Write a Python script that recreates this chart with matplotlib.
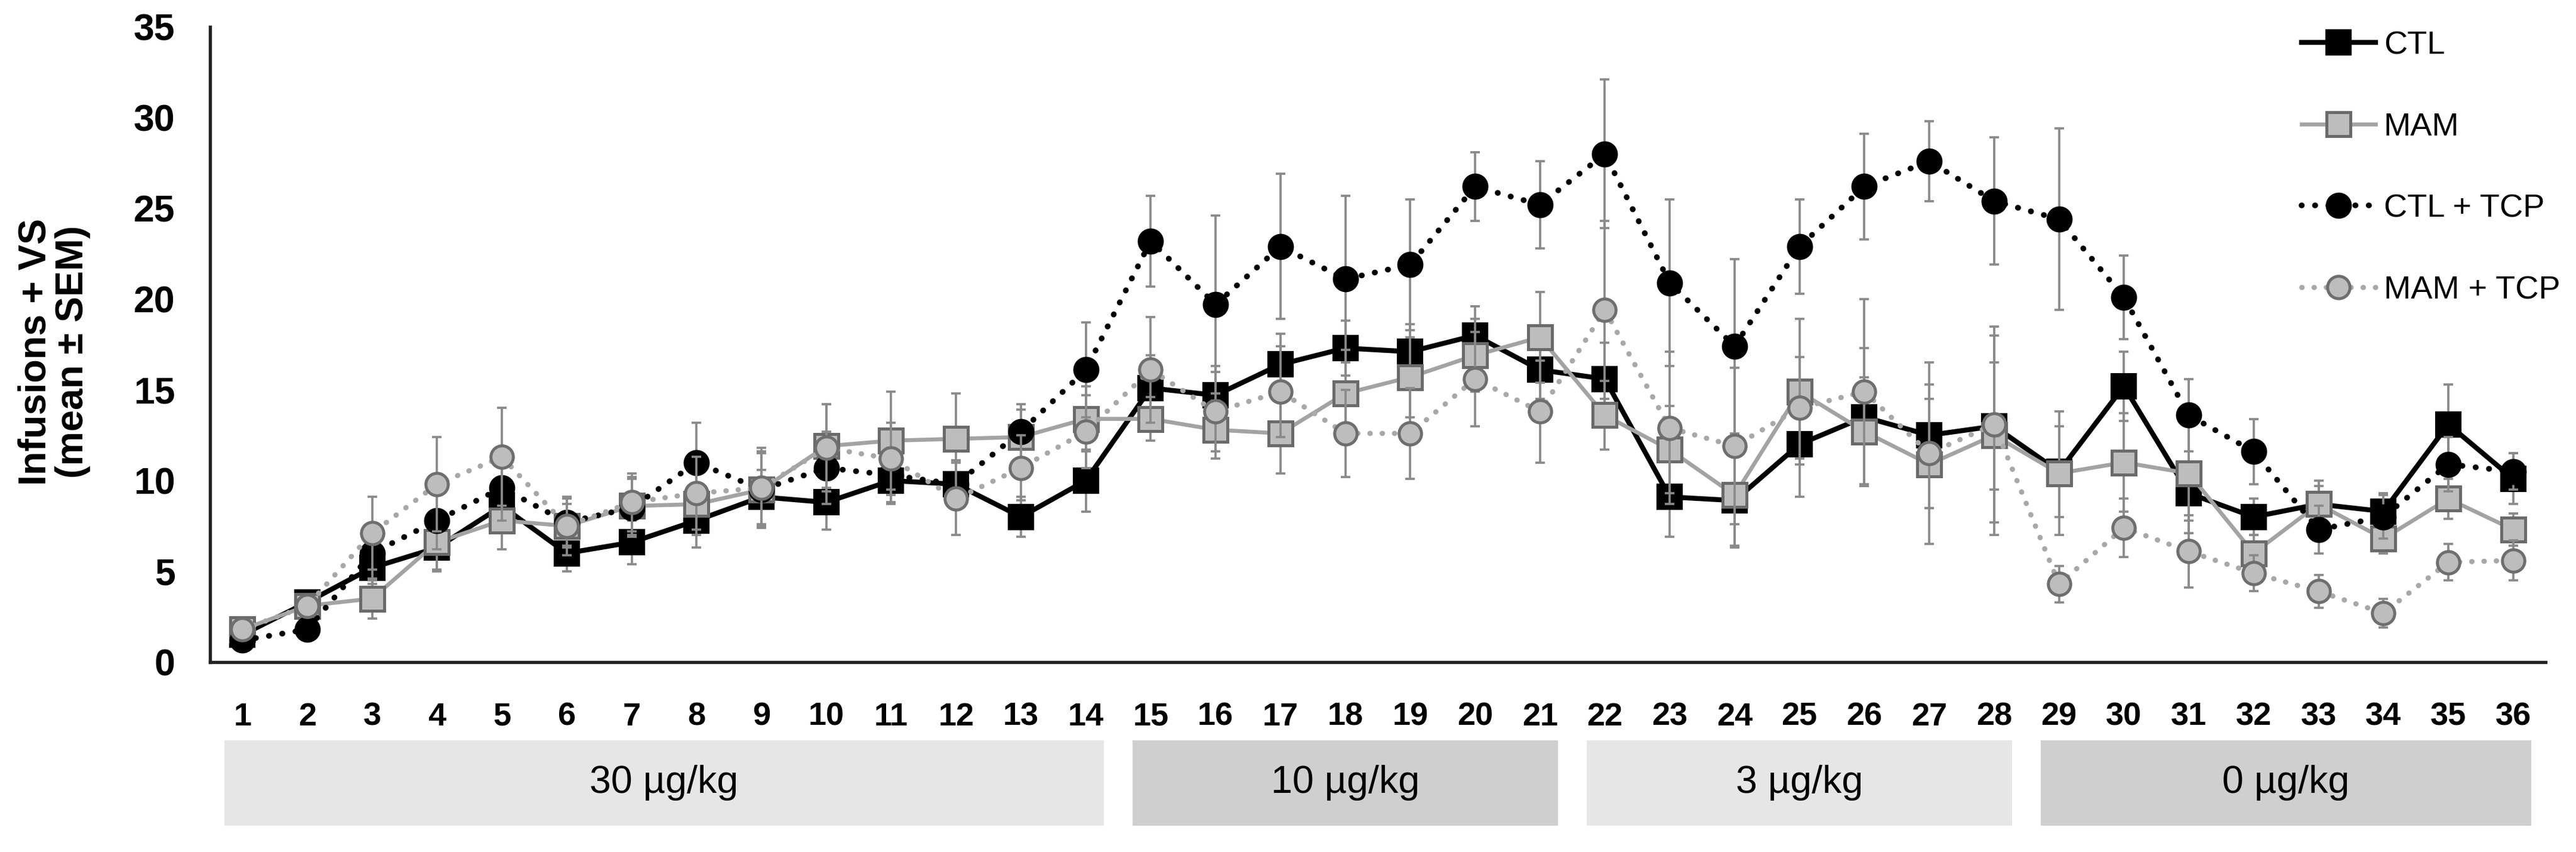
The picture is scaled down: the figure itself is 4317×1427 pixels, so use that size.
import numpy as np
import matplotlib
matplotlib.use("Agg")
import matplotlib.pyplot as plt
from matplotlib.patches import Rectangle
from matplotlib.transforms import blended_transform_factory

plt.rcParams['font.family'] = ['Liberation Sans', 'DejaVu Sans']

# sessions and group means / SEMs
sessions = np.arange(1, 37)

ctl = [1.5, 3.3, 5.2, 6.3, 8.6, 6.0, 6.6, 7.8, 9.1, 8.8, 10.0, 9.8, 8.0, 10.0, 15.1, 14.7, 16.4, 17.3,
       17.1, 18.0, 16.1, 15.6, 9.1, 8.9, 12.0, 13.5, 12.5, 13.0, 10.5, 15.2, 9.3, 8.0, 8.7, 8.3, 13.1, 10.1]
ctl_sem = [0.3, 0.6, 0.9, 1.3, 1.5, 1.0, 1.2, 1.5, 1.5, 1.5, 1.3, 1.3, 1.1, 1.7, 1.8, 1.6, 1.7, 1.5,
           1.5, 1.6, 1.6, 2.0, 2.2, 2.6, 2.9, 3.8, 4.0, 3.5, 2.5, 1.9, 1.5, 1.0, 1.0, 1.0, 2.2, 1.4]

mam = [1.8, 3.1, 3.5, 6.6, 7.8, 7.5, 8.6, 8.7, 9.5, 11.9, 12.2, 12.3, 12.4, 13.4, 13.4, 12.8, 12.6, 14.8,
       15.7, 16.9, 17.9, 13.6, 11.7, 9.2, 14.9, 12.7, 10.9, 12.5, 10.4, 11.0, 10.4, 6.0, 8.7, 6.8, 9.0, 7.3]
mam_sem = [0.3, 0.6, 1.1, 1.5, 1.6, 1.2, 1.6, 1.7, 2.0, 2.3, 2.7, 2.5, 1.5, 1.8, 1.2, 1.6, 2.2, 2.4,
           2.2, 2.0, 2.5, 1.9, 2.4, 2.8, 4.0, 3.0, 4.4, 5.5, 3.4, 2.7, 3.3, 1.0, 1.3, 0.8, 1.1, 0.9]

ctl_tcp = [1.2, 1.8, 6.0, 7.8, 9.6, 7.7, 8.5, 11.0, 9.5, 10.7, 10.3, 9.8, 12.7, 16.1, 23.2, 19.7, 22.9, 21.1,
           21.9, 26.2, 25.2, 28.0, 20.9, 17.4, 22.9, 26.2, 27.6, 25.4, 24.4, 20.1, 13.6, 11.6, 7.3, 8.0, 10.9, 10.5]
ctl_tcp_sem = [0.2, 0.4, 1.5, 1.6, 1.8, 1.3, 1.6, 2.2, 2.1, 2.0, 1.5, 1.3, 1.5, 2.6, 2.5, 4.9, 4.0, 4.6,
               3.6, 1.9, 2.4, 4.1, 4.6, 4.8, 2.6, 2.9, 2.2, 3.5, 5.0, 2.3, 2.0, 1.8, 1.3, 1.2, 1.5, 1.0]

mam_tcp = [1.8, 3.1, 7.1, 9.8, 11.3, 7.5, 8.8, 9.3, 9.6, 11.8, 11.2, 9.0, 10.7, 12.7, 16.1, 13.8, 14.9, 12.6,
           12.6, 15.6, 13.8, 19.4, 12.9, 11.9, 14.0, 14.9, 11.5, 13.1, 4.3, 7.4, 6.1, 4.9, 3.9, 2.7, 5.5, 5.6]
mam_tcp_sem = [0.3, 0.5, 2.0, 2.6, 2.7, 1.6, 1.6, 2.0, 2.2, 2.4, 2.0, 2.0, 1.8, 2.0, 2.9, 2.2, 2.5, 2.4,
               2.5, 2.6, 2.8, 4.9, 4.2, 4.3, 2.8, 5.1, 3.0, 5.4, 1.0, 1.6, 2.0, 1.0, 0.9, 0.8, 1.0, 1.1]

# dose blocks under the x axis
dose_labels = ['30 µg/kg', '10 µg/kg', '3 µg/kg', '0 µg/kg']
dose_first = [1, 15, 22, 29]
dose_last = [14, 21, 28, 36]
dose_colors = ['#e6e6e6', '#cfcfcf', '#e6e6e6', '#cfcfcf']

fig = plt.figure(figsize=(4317 / 300, 1427 / 300), dpi=300)
ax = fig.add_axes([0.0815, 0.2229, 0.9067, 0.7456])

err_kw = dict(fmt='none', ecolor='#8a8a8a', elinewidth=0.9, capsize=2, capthick=0.9)

dot = (0, (0.05, 2.3))
series = [
    ('CTL', ctl, ctl_sem, dict(color='black', lw=2.0, ls='-', marker='s', ms=9.5,
                               mfc='black', mec='black')),
    ('MAM', mam, mam_sem, dict(color='#a3a3a3', lw=1.6, ls='-', marker='s', ms=9.5,
                               mfc='#bdbdbd', mec='#6a6a6a', mew=1.2)),
    ('CTL + TCP', ctl_tcp, ctl_tcp_sem, dict(color='black', lw=2.3, ls=dot, marker='o', ms=9.5,
                                             mfc='black', mec='black', dash_capstyle='round')),
    ('MAM + TCP', mam_tcp, mam_tcp_sem, dict(color='#a8a8a8', lw=2.1, ls=dot, marker='o', ms=9,
                                             mfc='#bdbdbd', mec='#6e6e6e', mew=1.2, dash_capstyle='round')),
]

handles = []
for i, (name, vals, sem, style) in enumerate(series):
    ax.errorbar(sessions, vals, yerr=sem, zorder=2 + 2 * i, **err_kw)
    ln, = ax.plot(sessions, vals, label=name, zorder=3 + 2 * i, **style)
    handles.append(ln)

ax.set_xlim(0.5, 36.5)
ax.set_ylim(0, 35)
ax.set_xticks(sessions)
ax.set_xticklabels([str(s) for s in sessions], fontsize=13, fontweight='bold')
ax.set_yticks(np.arange(0, 36, 5))
ax.set_yticklabels([str(v) for v in range(0, 36, 5)], fontsize=15, fontweight='bold')
ax.tick_params(axis='both', length=0)
ax.tick_params(axis='x', pad=16)
ax.tick_params(axis='y', pad=14)
for side in ['top', 'right']:
    ax.spines[side].set_visible(False)
for side in ['left', 'bottom']:
    ax.spines[side].set_linewidth(1.3)
    ax.spines[side].set_color('#222222')

ax.set_ylabel('Infusions + VS\n(mean ± SEM)', fontsize=15.5, fontweight='bold', linespacing=1.05)
ax.yaxis.set_label_coords(-0.051, 0.488)

trans = blended_transform_factory(ax.transData, fig.transFigure)
for lab, a, b, c in zip(dose_labels, dose_first, dose_last, dose_colors):
    rect = Rectangle((a - 0.28, 0.031), (b - a) + 0.56, 0.1, transform=trans,
                     facecolor=c, edgecolor='none', clip_on=False)
    fig.add_artist(rect)
    fig.text((a + b) / 2, 0.081, lab, transform=trans, ha='center', va='center', fontsize=15.5)

fig.legend(handles=handles, loc='center left', bbox_to_anchor=(0.8934, 0.803), frameon=False,
           fontsize=13, handlelength=2.3, handletextpad=0.25, labelspacing=1.6, borderpad=0,
           borderaxespad=0)

fig.savefig('out.png', dpi=300)
